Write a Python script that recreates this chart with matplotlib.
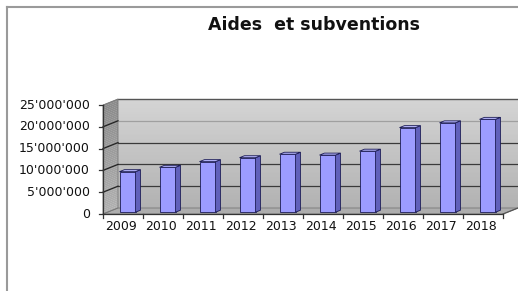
import matplotlib
matplotlib.use("Agg")
import matplotlib.pyplot as plt
import numpy as np
from matplotlib.patches import Polygon
from matplotlib.lines import Line2D
from matplotlib.colors import to_rgb

# ---- data ----
years = ["2009", "2010", "2011", "2012", "2013", "2014", "2015", "2016", "2017", "2018"]
values = [9.3e6, 10.3e6, 11.6e6, 12.5e6, 13.3e6, 13.1e6, 14.0e6, 19.4e6, 20.5e6, 21.3e6]
yticks = [0, 5e6, 10e6, 15e6, 20e6, 25e6]
ytick_labels = ["0", "5'000'000", "10'000'000", "15'000'000", "20'000'000", "25'000'000"]
title = "Aides  et subventions"

W, H = 518, 291
fig = plt.figure(figsize=(W / 100, H / 100), dpi=100)
fig.patch.set_facecolor("white")

# axes = front plane of the 3D box
x0, x1 = 103, 503
yb, yt = 214, 105
ax = fig.add_axes([x0 / W, (H - yb) / H, (x1 - x0) / W, (yb - yt) / H])
n = len(years)
ymax = 25e6
ax.set_xlim(-0.5, n - 0.5)
ax.set_ylim(0, ymax)
ax.axis("off")

DX = 15 / 40.0
DY = 6 / (yb - yt) * ymax
L, R = -0.5, n - 0.5


def mix(c0, c1, t):
    a, b = np.array(to_rgb(c0)), np.array(to_rgb(c1))
    return tuple(a + (b - a) * t)


NS = 60
# back wall: vertical gradient made of strips
for k in range(NS):
    ya = DY + ymax * k / NS
    yb_ = DY + ymax * (k + 1) / NS + ymax * 0.002
    ax.add_patch(Polygon([(L + DX, ya), (R + DX, ya), (R + DX, yb_), (L + DX, yb_)], closed=True,
                         facecolor=mix("#b2b2b2", "#d4d4d4", k / (NS - 1)), edgecolor="none",
                         lw=0, clip_on=False, zorder=0.5))
ax.add_line(Line2D([L + DX, R + DX], [ymax + DY, ymax + DY], color="#555555", lw=1.0, clip_on=False, zorder=1))

# side wall: gradient strips following the slant
for k in range(NS):
    ya = ymax * k / NS
    yb_ = ymax * (k + 1) / NS + ymax * 0.002
    ax.add_patch(Polygon([(L, ya), (L + DX, ya + DY), (L + DX, yb_ + DY), (L, yb_)], closed=True,
                         facecolor=mix("#b0b0b0", "#8a8a8a", k / (NS - 1)), edgecolor="none",
                         lw=0, clip_on=False, zorder=1))
ax.add_patch(Polygon([(L, 0), (L + DX, DY), (L + DX, ymax + DY), (L, ymax)], closed=True,
                     facecolor="none", edgecolor="#777777", lw=0.6, clip_on=False, zorder=1.1))

# floor
floor = Polygon([(L, 0), (R, 0), (R + DX, DY), (L + DX, DY)], closed=True,
                facecolor="#adadad", edgecolor="#777777", lw=0.6, clip_on=False, zorder=1)
ax.add_patch(floor)

# gridlines
for v in yticks[1:-1]:
    c = "#a0a0a0" if v == 20e6 else "#3a3a3a"
    ax.add_line(Line2D([L + DX, R + DX], [v + DY, v + DY], color=c, lw=0.9, clip_on=False, zorder=1.2))
    ax.add_line(Line2D([L, L + DX], [v, v + DY], color="#222222", lw=0.9, clip_on=False, zorder=1.2))

# axis lines and ticks
ax.add_line(Line2D([L, L], [0, ymax], color="#333333", lw=0.9, clip_on=False, zorder=3))
ax.add_line(Line2D([L, R], [0, 0], color="#333333", lw=0.9, clip_on=False, zorder=3))
ax.add_line(Line2D([R, R + DX], [0, DY], color="#555555", lw=0.9, clip_on=False, zorder=3))
tick_dx = 4 / 40.0
tick_dy = 4 / (yb - yt) * ymax
for v, lab in zip(yticks, ytick_labels):
    ax.add_line(Line2D([L - tick_dx, L], [v, v], color="#333333", lw=0.9, clip_on=False, zorder=3))
    ax.text(L - 13 / 40.0, v, lab, ha="right", va="center", fontsize=9,
            family="DejaVu Sans", color="#111111")
for i in range(n + 1):
    xb = i - 0.5
    ax.add_line(Line2D([xb, xb], [0, -tick_dy], color="#333333", lw=0.9, clip_on=False, zorder=3))
for i, yr in enumerate(years):
    ax.text(i - 0.06, -1.4e6, yr, ha="center", va="top", fontsize=9,
            family="DejaVu Sans", color="#111111")

# 3D bars
bw = 0.4
f0, f1 = 0.3, 0.63
ec = "#1c1c55"
for i, v in enumerate(values):
    xl = i - bw / 2 + f0 * DX
    xr = i + bw / 2 + f0 * DX
    yb0 = f0 * DY
    ddx = (f1 - f0) * DX
    ddy = (f1 - f0) * DY
    front = Polygon([(xl, yb0), (xr, yb0), (xr, v + yb0), (xl, v + yb0)], closed=True,
                    facecolor="#9c9cff", edgecolor=ec, lw=0.6, zorder=5)
    sidef = Polygon([(xr, yb0), (xr + ddx, yb0 + ddy), (xr + ddx, v + yb0 + ddy), (xr, v + yb0)],
                    closed=True, facecolor="#6060bb", edgecolor=ec, lw=0.6, zorder=5)
    top = Polygon([(xl, v + yb0), (xr, v + yb0), (xr + ddx, v + yb0 + ddy), (xl + ddx, v + yb0 + ddy)],
                  closed=True, facecolor="#b8b8ff", edgecolor=ec, lw=0.6, zorder=5)
    for p in (front, sidef, top):
        p.set_clip_on(False)
        ax.add_patch(p)

# title
fig.text(314 / W, 1 - 25 / H, title, ha="center", va="center", fontsize=12.5,
         fontweight="bold", family="DejaVu Sans", color="#111111")

# chart border (partial)
fig.add_artist(Line2D([7 / W, 7 / W], [0, 1 - 7 / H], color="#9a9a9a", lw=1.5))
fig.add_artist(Line2D([7 / W, 1], [1 - 7 / H, 1 - 7 / H], color="#9a9a9a", lw=1.5))

fig.savefig("out.png", dpi=100)
